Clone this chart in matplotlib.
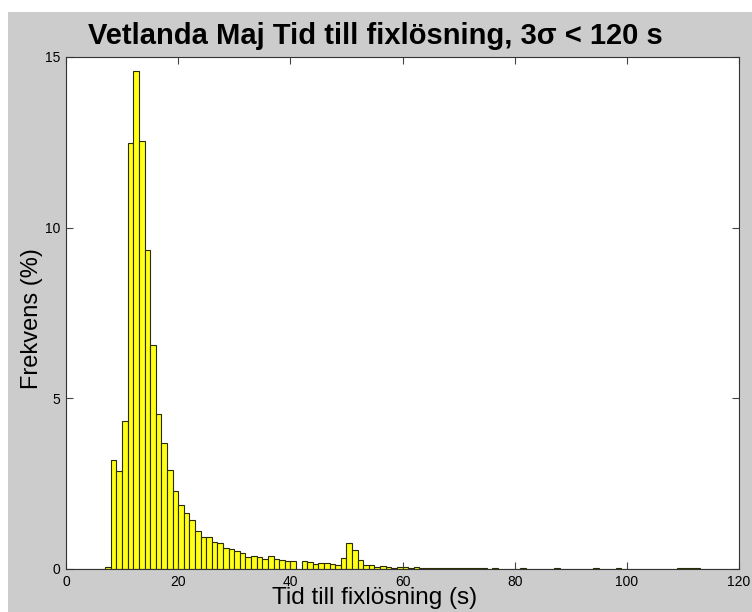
import numpy as np
import matplotlib.pyplot as plt
from matplotlib.patches import Rectangle

# Histogram data: bin left edges (s) and frequency (%)
bin_left = np.arange(0, 120)
freq = [0, 0, 0.01, 0.01, 0.01, 0, 0, 0.05,
        3.18, 2.88, 4.35, 12.48, 14.58, 12.55, 9.35, 6.57, 4.55, 3.69,
        2.9, 2.28, 1.88, 1.65, 1.44, 1.1, 0.95, 0.93, 0.8, 0.75,
        0.61, 0.6, 0.52, 0.46, 0.35, 0.37, 0.36, 0.3, 0.37, 0.29,
        0.26, 0.24, 0.23, 0, 0.23, 0.2, 0.16, 0.19, 0.19, 0.14,
        0.12, 0.33, 0.76, 0.57, 0.27, 0.12, 0.12, 0.07, 0.1, 0.07,
        0.03, 0.05, 0.05, 0.03, 0.05, 0.02,
        0.04, 0.03, 0.03, 0.02, 0.03, 0.03, 0.02, 0.03, 0.03, 0.02,
        0.02, 0.01, 0.02, 0.01, 0.01, 0.01, 0.01, 0.02, 0.01, 0.01,
        0, 0.01, 0.01, 0.02, 0.01, 0, 0.01, 0.01, 0.01, 0.01,
        0.02, 0.01, 0.01, 0.01, 0.02, 0.01, 0.01, 0, 0.01, 0,
        0.01, 0.01, 0, 0.01, 0.01, 0.02, 0.02, 0.02, 0.02, 0.01,
        0.01, 0.01, 0.01, 0.01, 0.01, 0.01]

xticks = [0, 20, 40, 60, 80, 100, 120]
yticks = [0, 5, 10, 15]

plt.rcParams['font.family'] = ['Liberation Sans', 'DejaVu Sans']

fig = plt.figure(figsize=(7.52, 6.12), dpi=100, facecolor='white')
# MATLAB-like gray figure background (with thin white margin at top/left)
fig.patches.append(Rectangle((8 / 752, 0), 1, 1 - 12 / 612, transform=fig.transFigure,
                             facecolor='#cccccc', edgecolor='none', zorder=-10))

ax = fig.add_axes([66 / 752, 43 / 612, 673 / 752, 512 / 612])
ax.set_facecolor('white')
ax.bar(bin_left, freq, width=1.0, align='edge', color='#ffff1a',
       edgecolor='#2b2b00', linewidth=0.8)

ax.set_xlim(0, 120)
ax.set_ylim(0, 15)
ax.set_xticks(xticks)
ax.set_yticks(yticks)
ax.tick_params(direction='in', length=5, top=True, right=True,
               labelsize=10, color='#444444', pad=4)
for s in ax.spines.values():
    s.set_color('#333333')
    s.set_linewidth(0.8)

ax.set_xlabel('Tid till fixlösning (s)', fontsize=17.5)
ax.xaxis.set_label_coords((375 - 66) / 673, -0.036)
ax.set_ylabel('Frekvens (%)', fontsize=17)
ax.yaxis.set_label_coords(-0.034, 0.49)

fig.text(375 / 752, 1 - 36 / 612, 'Vetlanda Maj Tid till fixlösning, 3σ < 120 s',
         fontsize=21, fontweight='bold', ha='center', va='center')

fig.savefig('out.png', dpi=100, facecolor=fig.get_facecolor())
